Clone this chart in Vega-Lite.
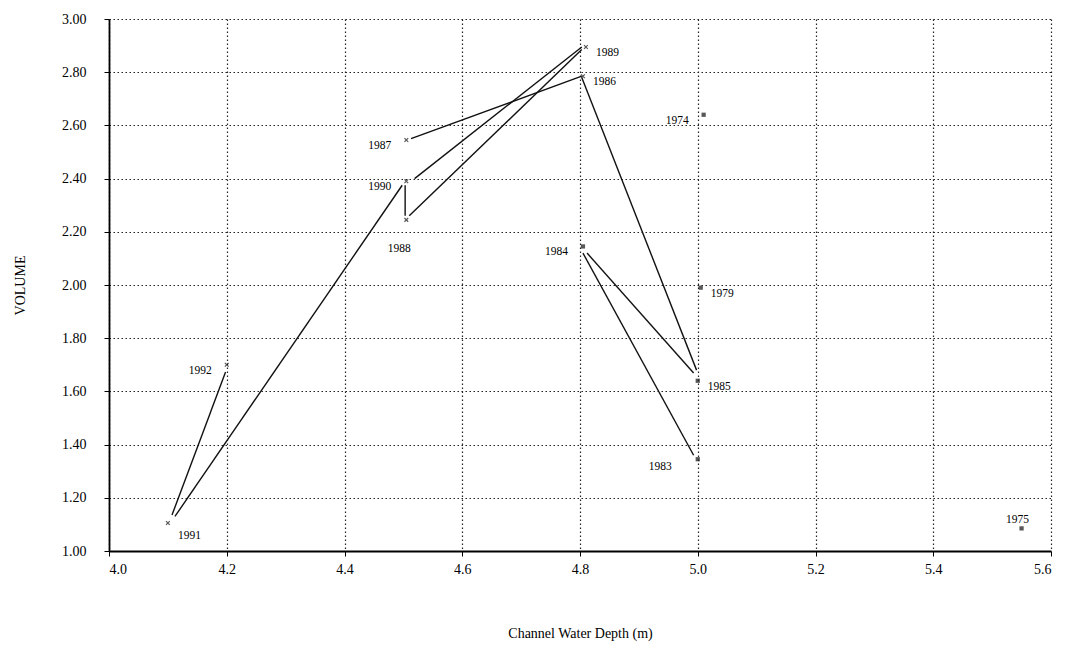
{
  "$schema": "https://vega.github.io/schema/vega-lite/v6.json",
  "width": 942,
  "height": 532,
  "autosize": "none",
  "padding": {"left": 109, "top": 19, "right": 22, "bottom": 105},
  "background": "white",
  "config": {
    "view": {"stroke": null},
    "font": "Liberation Serif",
    "axis": {
      "labelFont": "Liberation Serif",
      "titleFont": "Liberation Serif",
      "labelFontSize": 14,
      "titleFontSize": 14,
      "titleFontWeight": "normal",
      "labelColor": "#000",
      "titleColor": "#000",
      "domainColor": "#000",
      "domainWidth": 1.8,
      "tickColor": "#000",
      "tickSize": 5,
      "gridColor": "#222",
      "gridDash": [1.5, 2.5],
      "gridWidth": 1.2,
      "gridOpacity": 1
    }
  },
  "datasets": {
    "points": [
      {"year": 1974, "depth": 5.01, "volume": 2.64, "period": "1974-1985"},
      {"year": 1975, "depth": 5.55, "volume": 1.085, "period": "1974-1985"},
      {"year": 1979, "depth": 5.005, "volume": 1.99, "period": "1974-1985"},
      {"year": 1983, "depth": 5.0, "volume": 1.345, "period": "1974-1985"},
      {"year": 1984, "depth": 4.805, "volume": 2.145, "period": "1974-1985"},
      {"year": 1985, "depth": 5.0, "volume": 1.64, "period": "1974-1985"},
      {"year": 1986, "depth": 4.805, "volume": 2.785, "period": "1986-1992"},
      {"year": 1987, "depth": 4.505, "volume": 2.545, "period": "1986-1992"},
      {"year": 1988, "depth": 4.505, "volume": 2.245, "period": "1986-1992"},
      {"year": 1989, "depth": 4.81, "volume": 2.895, "period": "1986-1992"},
      {"year": 1990, "depth": 4.505, "volume": 2.39, "period": "1986-1992"},
      {"year": 1991, "depth": 4.1, "volume": 1.105, "period": "1986-1992"},
      {"year": 1992, "depth": 4.2, "volume": 1.70, "period": "1986-1992"}
    ],
    "segments": [
      {"from": 1984, "to": 1983, "x1": 4.805, "y1": 2.12, "x2": 4.993, "y2": 1.36},
      {"from": 1984, "to": 1985, "x1": 4.812, "y1": 2.12, "x2": 4.993, "y2": 1.669},
      {"from": 1985, "to": 1986, "x1": 4.998, "y1": 1.68, "x2": 4.803, "y2": 2.78},
      {"from": 1986, "to": 1987, "x1": 4.803, "y1": 2.785, "x2": 4.513, "y2": 2.55},
      {"from": 1990, "to": 1988, "x1": 4.503, "y1": 2.375, "x2": 4.503, "y2": 2.26},
      {"from": 1988, "to": 1989, "x1": 4.51, "y1": 2.26, "x2": 4.803, "y2": 2.885},
      {"from": 1989, "to": 1990, "x1": 4.803, "y1": 2.895, "x2": 4.519, "y2": 2.40},
      {"from": 1990, "to": 1991, "x1": 4.498, "y1": 2.375, "x2": 4.112, "y2": 1.13},
      {"from": 1991, "to": 1992, "x1": 4.107, "y1": 1.135, "x2": 4.198, "y2": 1.673}
    ]
  },
  "layer": [
    {
      "data": {"name": "segments"},
      "mark": {"type": "rule", "color": "#111", "strokeWidth": 1.4},
      "encoding": {
        "x": {
          "field": "x1", "type": "quantitative",
          "scale": {"domain": [4.0, 5.6], "nice": false, "zero": false},
          "axis": {
            "values": [4.0, 4.2, 4.4, 4.6, 4.8, 5.0, 5.2, 5.4, 5.6],
            "format": ".1f",
            "title": "Channel Water Depth (m)",
            "titlePadding": 50,
            "labelPadding": 6,
            "grid": true
          }
        },
        "y": {
          "field": "y1", "type": "quantitative",
          "scale": {"domain": [1.0, 3.0], "nice": false, "zero": false},
          "axis": {
            "values": [1.0, 1.2, 1.4, 1.6, 1.8, 2.0, 2.2, 2.4, 2.6, 2.8, 3.0],
            "format": ".2f",
            "title": "VOLUME",
            "titlePadding": 34,
            "labelPadding": 18,
            "grid": true
          }
        },
        "x2": {"field": "x2"},
        "y2": {"field": "y2"}
      }
    },
    {
      "data": {"name": "points"},
      "transform": [{"filter": {"field": "period", "equal": "1974-1985"}}],
      "mark": {"type": "point", "shape": "square", "filled": true, "color": "#111", "size": 18},
      "encoding": {
        "x": {"field": "depth", "type": "quantitative"},
        "y": {"field": "volume", "type": "quantitative"}
      }
    },
    {
      "data": {"name": "points"},
      "transform": [{"filter": {"field": "period", "equal": "1986-1992"}}],
      "mark": {"type": "point", "shape": "M-1,-1L1,1M1,-1L-1,1", "filled": false, "color": "#111", "size": 14, "strokeWidth": 1.2},
      "encoding": {
        "x": {"field": "depth", "type": "quantitative"},
        "y": {"field": "volume", "type": "quantitative"}
      }
    },
    {
      "data": {"name": "points"},
      "transform": [{"filter": {"field": "year", "oneOf": [1989, 1986, 1979, 1985]}}],
      "mark": {"type": "text", "align": "left", "dx": 10, "dy": 6, "fontSize": 11.5, "color": "#000"},
      "encoding": {
        "x": {"field": "depth", "type": "quantitative"},
        "y": {"field": "volume", "type": "quantitative"},
        "text": {"field": "year", "type": "nominal"}
      }
    },
    {
      "data": {"name": "points"},
      "transform": [{"filter": {"field": "year", "oneOf": [1991]}}],
      "mark": {"type": "text", "align": "left", "dx": 10, "dy": 13, "fontSize": 11.5, "color": "#000"},
      "encoding": {
        "x": {"field": "depth", "type": "quantitative"},
        "y": {"field": "volume", "type": "quantitative"},
        "text": {"field": "year", "type": "nominal"}
      }
    },
    {
      "data": {"name": "points"},
      "transform": [{"filter": {"field": "year", "oneOf": [1974, 1987, 1990, 1984, 1992]}}],
      "mark": {"type": "text", "align": "right", "dx": -15, "dy": 6, "fontSize": 11.5, "color": "#000"},
      "encoding": {
        "x": {"field": "depth", "type": "quantitative"},
        "y": {"field": "volume", "type": "quantitative"},
        "text": {"field": "year", "type": "nominal"}
      }
    },
    {
      "data": {"name": "points"},
      "transform": [{"filter": {"field": "year", "oneOf": [1983]}}],
      "mark": {"type": "text", "align": "right", "dx": -26, "dy": 8, "fontSize": 11.5, "color": "#000"},
      "encoding": {
        "x": {"field": "depth", "type": "quantitative"},
        "y": {"field": "volume", "type": "quantitative"},
        "text": {"field": "year", "type": "nominal"}
      }
    },
    {
      "data": {"name": "points"},
      "transform": [{"filter": {"field": "year", "oneOf": [1988]}}],
      "mark": {"type": "text", "align": "center", "dx": -7, "dy": 29, "fontSize": 11.5, "color": "#000"},
      "encoding": {
        "x": {"field": "depth", "type": "quantitative"},
        "y": {"field": "volume", "type": "quantitative"},
        "text": {"field": "year", "type": "nominal"}
      }
    },
    {
      "data": {"name": "points"},
      "transform": [{"filter": {"field": "year", "oneOf": [1975]}}],
      "mark": {"type": "text", "align": "center", "dx": -4, "dy": -8, "fontSize": 11.5, "color": "#000"},
      "encoding": {
        "x": {"field": "depth", "type": "quantitative"},
        "y": {"field": "volume", "type": "quantitative"},
        "text": {"field": "year", "type": "nominal"}
      }
    }
  ]
}
